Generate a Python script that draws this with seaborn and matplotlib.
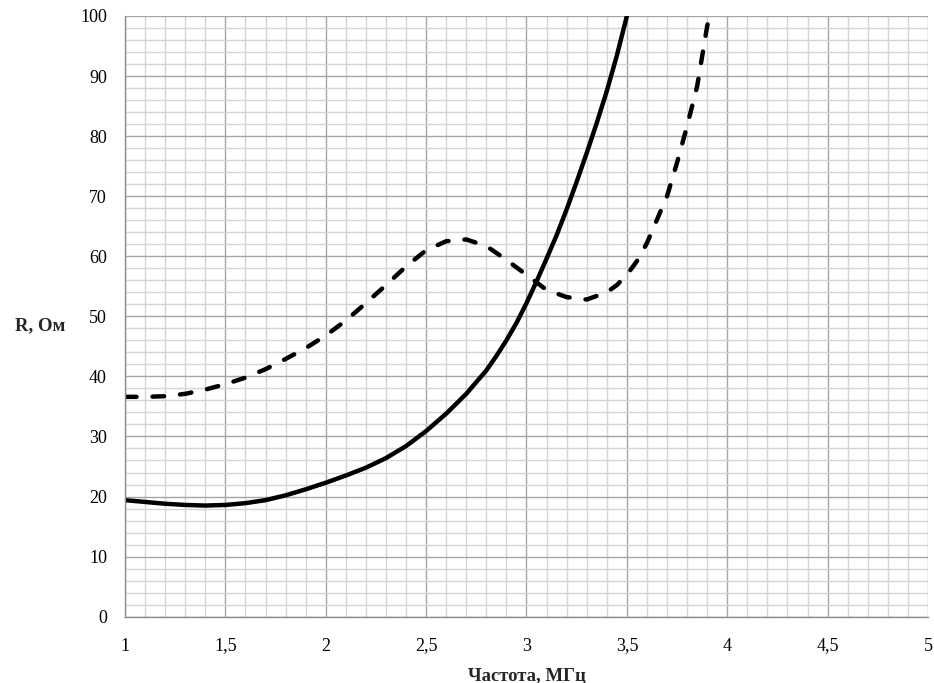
import matplotlib
matplotlib.use('Agg')
import matplotlib.pyplot as plt
import matplotlib.ticker as mticker
import seaborn as sns
import pandas as pd

# значения (сплошная кривая)
freq_solid = [1.0, 1.1, 1.2, 1.3, 1.4, 1.5, 1.6, 1.7, 1.8, 1.9, 2.0, 2.1, 2.2, 2.3, 2.4, 2.5,
              2.6, 2.7, 2.8, 2.85, 2.9, 2.95, 3.0, 3.05, 3.1, 3.15, 3.2, 3.25, 3.3, 3.35, 3.4, 3.45, 3.5]
r_solid = [19.4, 19.1, 18.8, 18.6, 18.5, 18.6, 18.9, 19.4, 20.2, 21.2, 22.3, 23.5, 24.8, 26.4, 28.4, 30.9,
           33.8, 37.1, 41.0, 43.4, 46.0, 48.9, 52.2, 55.8, 59.6, 63.5, 67.8, 72.4, 77.2, 82.2, 87.5, 93.4, 100.0]

# пунктирная кривая
freq_dash = [1.0, 1.1, 1.2, 1.3, 1.4, 1.5, 1.6, 1.7, 1.8, 1.9, 2.0, 2.1, 2.2, 2.3, 2.4, 2.5,
             2.6, 2.7, 2.8, 2.9, 3.0, 3.1, 3.2, 3.3, 3.4, 3.45, 3.5, 3.55, 3.6, 3.65, 3.7, 3.75,
             3.8, 3.85, 3.9, 3.91]
r_dash = [36.6, 36.6, 36.7, 37.1, 37.8, 38.7, 39.8, 41.2, 42.9, 44.7, 46.8, 49.3, 52.2, 55.2, 58.3, 61.0,
          62.5, 62.8, 61.7, 59.4, 56.9, 54.4, 53.2, 52.8, 54.0, 55.2, 56.9, 59.2, 62.2, 66.1, 70.0, 75.6,
          81.7, 88.3, 98.3, 100.0]

df_solid = pd.DataFrame({'f': freq_solid, 'R': r_solid})
df_dash = pd.DataFrame({'f': freq_dash, 'R': r_dash})

sns.set_style('white')
plt.rcParams['font.family'] = ['Liberation Serif', 'DejaVu Serif']

fig = plt.figure(figsize=(9.34, 6.83), dpi=100)
ax = fig.add_axes([0.1338, 0.0971, 0.8598, 0.8795])

ax.set_xlim(1, 5)
ax.set_ylim(0, 100)
ax.xaxis.set_major_locator(mticker.MultipleLocator(0.5))
ax.xaxis.set_minor_locator(mticker.MultipleLocator(0.1))
ax.yaxis.set_major_locator(mticker.MultipleLocator(10))
ax.yaxis.set_minor_locator(mticker.MultipleLocator(2))
ax.grid(True, which='major', color='#a6a6a6', linewidth=1.0)
ax.grid(True, which='minor', color='#d4d4d4', linewidth=1.0)
ax.set_axisbelow(True)

sns.lineplot(data=df_solid, x='f', y='R', color='black', linewidth=3.2, sort=False, ax=ax,
             solid_capstyle='round', solid_joinstyle='round')
sns.lineplot(data=df_dash, x='f', y='R', color='black', linewidth=3.2, sort=False, ax=ax)
ax.lines[-1].set_dashes([2.6, 3.6])
ax.lines[-1].set_dash_capstyle('round')
ax.lines[-1].set_dash_joinstyle('round')

for s in ['top', 'right']:
    ax.spines[s].set_visible(False)
for s in ['left', 'bottom']:
    ax.spines[s].set_color('#8c8c8c')
    ax.spines[s].set_linewidth(1.0)

fmt = mticker.FuncFormatter(lambda v, p: ('%g' % v).replace('.', ','))
ax.xaxis.set_major_formatter(fmt)
ax.tick_params(axis='both', which='major', direction='out', length=5, width=1,
               color='#8c8c8c', labelsize=13, labelcolor='black')
ax.tick_params(axis='x', which='major', pad=10)
ax.tick_params(axis='y', which='major', pad=8)
ax.tick_params(axis='both', which='minor', length=0)

ax.set_xlabel('Частота, МГц', fontsize=13.5, fontweight='bold')
ax.set_ylabel('R, Ом', fontsize=13.5, fontweight='bold', rotation=0, ha='center', va='center')
ax.yaxis.set_label_coords(-0.106, 0.485)
ax.xaxis.set_label_coords(0.5, -0.085)

plt.savefig('out.png', dpi=100)
